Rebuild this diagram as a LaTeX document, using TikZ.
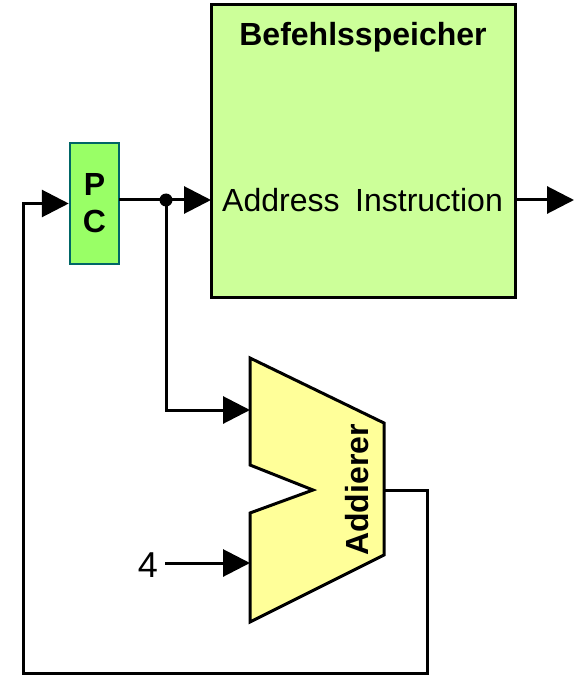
\documentclass[tikz,border=0pt]{standalone}
\usepackage{fontspec}
\setmainfont{Liberation Sans}
\usetikzlibrary{arrows.meta}
\definecolor{memgreen}{HTML}{CCFF99}
\definecolor{pcgreen}{HTML}{99FF66}
\definecolor{pcborder}{HTML}{006666}
\definecolor{addyellow}{HTML}{FFFF99}
\begin{document}
\begin{tikzpicture}[x=1pt,y=-1pt,
  wire/.style={line width=3pt, line join=miter},
  arr/.style={wire, -{Triangle[length=27pt,width=27pt]}},
  lbl/.style={inner sep=0pt, font=\fontsize{32}{38}\selectfont},
  blbl/.style={inner sep=0pt, font=\fontsize{32}{38}\selectfont\bfseries}]
\useasboundingbox (0,0) rectangle (576,676);

% instruction memory
\node[draw, line width=3pt, fill=memgreen, minimum width=304pt, minimum height=292pt,
      inner sep=0pt] (mem) at (363,151) {};
\node[blbl] (memtitle) at (363,37) {Befehlsspeicher};
\node[lbl, anchor=west] (addr) at (222,200) {Address};
\node[lbl, anchor=east] (instr) at (503,200) {Instruction};

% program counter
\node[draw=pcborder, fill=pcgreen, line width=2.5pt, minimum width=49pt, minimum height=121pt,
      inner sep=0pt, align=center, font=\fontsize{32}{37}\selectfont\bfseries] (pc) at (94.5,203.5) {P\\C};

% adder
\draw[wire, fill=addyellow] (250,358) -- (384,423) -- (384,555) -- (250,622) -- (250,513)
  -- (313,490) -- (250,465) -- cycle;
\coordinate (addA) at (250,410);
\coordinate (addB) at (250,563);
\coordinate (addOut) at (384,490);
\node[blbl, rotate=90] (addlbl) at (357,490) {Addierer};

% constant input
\node[lbl, font=\fontsize{36}{40}\selectfont] (four) at (148,565) {4};

% connections
\coordinate (memin) at (211,200);
\coordinate (memout) at (515,200);
\coordinate (outend) at (574,200);
\coordinate (fork) at (166,200);
\coordinate (pcout) at (119,200);
\coordinate (fourout) at (165,563);

\draw[arr] (pcout) -- (memin);
\fill (fork) circle (6.5pt);
\draw[arr] (fork) -- (166,410) -- (addA);
\draw[arr] (fourout) -- (addB);
\draw[arr] (memout) -- (outend);
\draw[arr] (addOut) -- (427,490) -- (427,673) -- (23,673) -- (23,203.5) -- (pc.west);
\end{tikzpicture}
\end{document}
